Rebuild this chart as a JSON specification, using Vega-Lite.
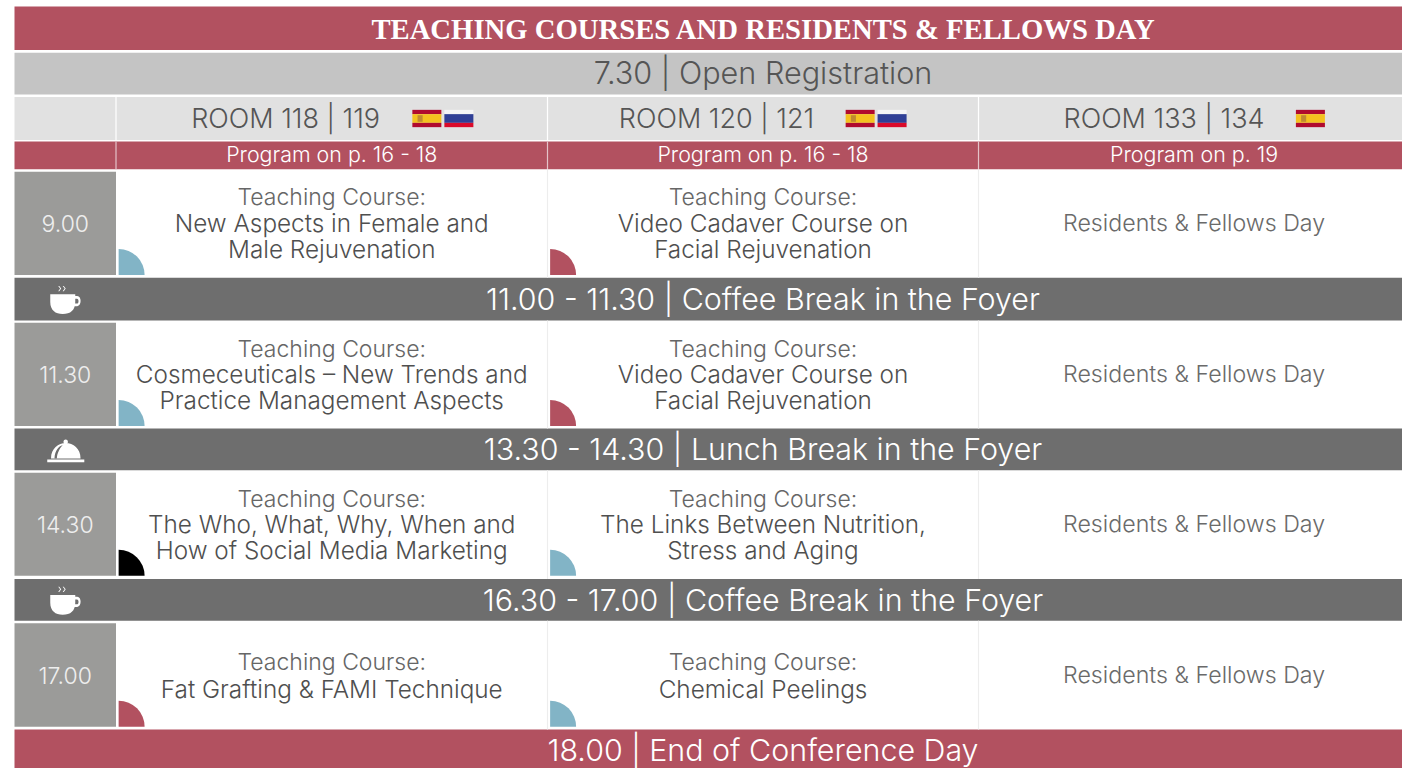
{
"$schema":"https://vega.github.io/schema/vega-lite/v6.json",
"width":1402,"height":768,"padding":0,"autosize":"none","background":"white",
"config":{"view":{"stroke":null}},
"datasets":{
"cells":[
{"col":0,"colEnd":4,"row":0,"rowEnd":1,"kind":"header"},
{"col":0,"colEnd":4,"row":2,"rowEnd":3,"kind":"registration"},
{"col":0,"colEnd":4,"row":4,"rowEnd":5,"kind":"rooms"},
{"col":0,"colEnd":4,"row":6,"rowEnd":7,"kind":"header"},
{"col":0,"colEnd":1,"row":8,"rowEnd":9,"kind":"time"},
{"col":0,"colEnd":4,"row":10,"rowEnd":11,"kind":"break"},
{"col":0,"colEnd":1,"row":12,"rowEnd":13,"kind":"time"},
{"col":0,"colEnd":4,"row":14,"rowEnd":15,"kind":"break"},
{"col":0,"colEnd":1,"row":16,"rowEnd":17,"kind":"time"},
{"col":0,"colEnd":4,"row":18,"rowEnd":19,"kind":"break"},
{"col":0,"colEnd":1,"row":20,"rowEnd":21,"kind":"time"},
{"col":0,"colEnd":4,"row":22,"rowEnd":23,"kind":"header"}
],
"dividers":[
{"col":1,"row":4,"rowEnd":5,"tone":"white"},{"col":2,"row":4,"rowEnd":5,"tone":"white"},{"col":3,"row":4,"rowEnd":5,"tone":"white"},
{"col":1,"row":6,"rowEnd":7,"tone":"pink"},{"col":2,"row":6,"rowEnd":7,"tone":"pink"},{"col":3,"row":6,"rowEnd":7,"tone":"pink"},
{"col":2,"row":7,"rowEnd":10,"tone":"faint"},{"col":3,"row":7,"rowEnd":10,"tone":"faint"},
{"col":2,"row":11,"rowEnd":14,"tone":"faint"},{"col":3,"row":11,"rowEnd":14,"tone":"faint"},
{"col":2,"row":15,"rowEnd":18,"tone":"faint"},{"col":3,"row":15,"rowEnd":18,"tone":"faint"},
{"col":2,"row":19,"rowEnd":22,"tone":"faint"},{"col":3,"row":19,"rowEnd":22,"tone":"faint"}
],
"tracks":[
{"col":1,"row":9,"track":"blue"},{"col":2,"row":9,"track":"red"},
{"col":1,"row":13,"track":"blue"},{"col":2,"row":13,"track":"red"},
{"col":1,"row":17,"track":"black"},{"col":2,"row":17,"track":"blue"},
{"col":1,"row":21,"track":"red"},{"col":2,"row":21,"track":"blue"}
],
"glyphs":[
{"col":0.5,"row":10.5,"part":"cup","ink":"white"},
{"col":0.5,"row":18.5,"part":"cup","ink":"white"},
{"col":0.5,"row":14.5,"part":"cloche","ink":"white"},
{"col":0.5,"row":14.5,"part":"groove","ink":"bar"},
{"col":1.7204,"row":4.5,"part":"top","ink":"esred"},{"col":1.7204,"row":4.5,"part":"mid","ink":"esyellow"},{"col":1.7204,"row":4.5,"part":"bottom","ink":"esred"},{"col":1.7204,"row":4.5,"part":"crest","ink":"crest"},
{"col":1.7946,"row":4.5,"part":"top","ink":"ruwhite"},{"col":1.7946,"row":4.5,"part":"mid","ink":"rublue"},{"col":1.7946,"row":4.5,"part":"bottom","ink":"rured"},
{"col":2.7254,"row":4.5,"part":"top","ink":"esred"},{"col":2.7254,"row":4.5,"part":"mid","ink":"esyellow"},{"col":2.7254,"row":4.5,"part":"bottom","ink":"esred"},{"col":2.7254,"row":4.5,"part":"crest","ink":"crest"},
{"col":2.7995,"row":4.5,"part":"top","ink":"ruwhite"},{"col":2.7995,"row":4.5,"part":"mid","ink":"rublue"},{"col":2.7995,"row":4.5,"part":"bottom","ink":"rured"},
{"col":3.7837,"row":4.5,"part":"top","ink":"esred"},{"col":3.7837,"row":4.5,"part":"mid","ink":"esyellow"},{"col":3.7837,"row":4.5,"part":"bottom","ink":"esred"},{"col":3.7837,"row":4.5,"part":"crest","ink":"crest"}
],
"labels":[
{"col":2.5,"row":0.5,"style":"title","text":"TEACHING COURSES AND RESIDENTS & FELLOWS DAY"},
{"col":2.5,"row":2.5,"style":"band","text":"7.30 | Open Registration"},
{"col":1.393,"row":4.5,"style":"room","text":"ROOM 118 | 119"},
{"col":2.392,"row":4.5,"style":"room","text":"ROOM 120 | 121"},
{"col":3.438,"row":4.5,"style":"room","text":"ROOM 133 | 134"},
{"col":1.5,"row":6.5,"style":"program","text":"Program on p. 16 - 18"},
{"col":2.5,"row":6.5,"style":"program","text":"Program on p. 16 - 18"},
{"col":3.509,"row":6.5,"style":"program","text":"Program on p. 19"},
{"col":0.5,"row":8.5,"style":"time","text":"9.00"},
{"col":0.5,"row":12.5,"style":"time","text":"11.30"},
{"col":0.5,"row":16.5,"style":"time","text":"14.30"},
{"col":0.5,"row":20.5,"style":"time","text":"17.00"},
{"col":2.5,"row":10.5,"style":"bar","text":"11.00 - 11.30 | Coffee Break in the Foyer"},
{"col":2.5,"row":14.5,"style":"bar","text":"13.30 - 14.30 | Lunch Break in the Foyer"},
{"col":2.5,"row":18.5,"style":"bar","text":"16.30 - 17.00 | Coffee Break in the Foyer"},
{"col":2.5,"row":22.53,"style":"bar","text":"18.00 | End of Conference Day"},
{"col":1.5,"row":8.25,"style":"kicker","text":"Teaching Course:"},
{"col":1.5,"row":8.5,"style":"course","text":"New Aspects in Female and"},
{"col":1.5,"row":8.75,"style":"course","text":"Male Rejuvenation"},
{"col":2.5,"row":8.25,"style":"kicker","text":"Teaching Course:"},
{"col":2.5,"row":8.5,"style":"course","text":"Video Cadaver Course on"},
{"col":2.5,"row":8.75,"style":"course","text":"Facial Rejuvenation"},
{"col":3.509,"row":8.5,"style":"residents","text":"Residents & Fellows Day"},
{"col":1.5,"row":12.26,"style":"kicker","text":"Teaching Course:"},
{"col":1.5,"row":12.5,"style":"course","text":"Cosmeceuticals – New Trends and"},
{"col":1.5,"row":12.75,"style":"course","text":"Practice Management Aspects"},
{"col":2.5,"row":12.26,"style":"kicker","text":"Teaching Course:"},
{"col":2.5,"row":12.5,"style":"course","text":"Video Cadaver Course on"},
{"col":2.5,"row":12.75,"style":"course","text":"Facial Rejuvenation"},
{"col":3.509,"row":12.5,"style":"residents","text":"Residents & Fellows Day"},
{"col":1.5,"row":16.26,"style":"kicker","text":"Teaching Course:"},
{"col":1.5,"row":16.5,"style":"course","text":"The Who, What, Why, When and"},
{"col":1.5,"row":16.75,"style":"course","text":"How of Social Media Marketing"},
{"col":2.5,"row":16.26,"style":"kicker","text":"Teaching Course:"},
{"col":2.5,"row":16.5,"style":"course","text":"The Links Between Nutrition,"},
{"col":2.5,"row":16.75,"style":"course","text":"Stress and Aging"},
{"col":3.509,"row":16.5,"style":"residents","text":"Residents & Fellows Day"},
{"col":1.5,"row":20.38,"style":"kicker","text":"Teaching Course:"},
{"col":1.5,"row":20.635,"style":"course","text":"Fat Grafting & FAMI Technique"},
{"col":2.5,"row":20.38,"style":"kicker","text":"Teaching Course:"},
{"col":2.5,"row":20.635,"style":"course","text":"Chemical Peelings"},
{"col":3.509,"row":20.5,"style":"residents","text":"Residents & Fellows Day"}
]
},
"encoding":{
"x":{"field":"col","type":"quantitative","axis":null,"scale":{"domain":[0,1,2,3,4],"range":[14.5,116,547.5,978.5,1402],"nice":false,"zero":false}},
"y":{"field":"row","type":"quantitative","axis":null,"scale":{"domain":[0,1,2,3,4,5,6,7,8,9,10,11,12,13,14,15,16,17,18,19,20,21,22,23],"range":[6.5,50,52.7,94.5,97,140,141.5,169.3,171.7,275,277.7,320.5,322.7,426,428.5,470.3,472.7,575.8,579,620.7,623.3,726.7,729.5,768],"nice":false,"zero":false}}
},
"layer":[
{"data":{"name":"cells"},"mark":{"type":"rect"},"encoding":{"x2":{"field":"colEnd"},"y2":{"field":"rowEnd"},
"color":{"field":"kind","type":"nominal","legend":null,"scale":{"domain":["header","registration","rooms","time","break"],"range":["#b25160","#c4c4c4","#e1e1e1","#9b9b99","#6e6e6e"]}}}},
{"data":{"name":"dividers"},"mark":{"type":"rule","strokeWidth":1.2},"encoding":{"y2":{"field":"rowEnd"},
"color":{"field":"tone","type":"nominal","legend":null,"scale":{"domain":["white","pink","faint"],"range":["#ffffff","#e4c3c9","#ededed"]}}}},
{"data":{"name":"tracks"},"mark":{"type":"arc","theta":0,"theta2":1.5708,"innerRadius":0,"outerRadius":26,"xOffset":2.6},"encoding":{
"color":{"field":"track","type":"nominal","legend":null,"scale":{"domain":["blue","red","black"],"range":["#82b4c6","#b25160","#000000"]}}}},
{"data":{"name":"glyphs"},"mark":{"type":"point","filled":true,"opacity":1,"size":900,"strokeWidth":0},"encoding":{
"shape":{"field":"part","type":"nominal","legend":null,"scale":{"domain":["cup","cloche","groove","top","mid","bottom","crest"],"range":[
"M-1 -.33 L.667 -.33 L.667 .2 C.667 .75 .35 1 -.17 1 C-.65 1 -1 .75 -1 .2 Z M.6 -.2 L.8 -.2 C1.1 -.2 1.1 .47 .8 .47 L.6 .47 L.6 .3 L.78 .3 C.92 .3 .92 -.03 .78 -.03 L.6 -.03 Z M-.47 -.87 L-.4 -.87 L-.27 -.7 L-.4 -.53 L-.47 -.53 L-.34 -.7 Z M-.17 -.87 L-.1 -.87 L.03 -.7 L-.1 -.53 L-.17 -.53 L-.04 -.7 Z",
"M-1.2 .67 L-1.2 .85 L1.27 .85 L1.27 .67 Z M-.95 .6 C-.95 -.05 -.45 -.42 .03 -.42 C.53 -.42 1.02 -.05 1.02 .6 Z M-.12 -.5 C-.12 -.72 .18 -.72 .18 -.5 C.18 -.35 -.12 -.35 -.12 -.5 Z",
"M-.72 .6 C-.68 .05 -.45 -.2 -.17 -.3 C-.35 -.1 -.54 .2 -.56 .6 Z",
"M-.967 -.577 L.967 -.577 L.967 -.29 L-.967 -.29 Z",
"M-.967 -.29 L.967 -.29 L.967 .29 L-.967 .29 Z",
"M-.967 .29 L.967 .29 L.967 .577 L-.967 .577 Z",
"M-.62 -.22 L-.28 -.22 L-.28 .22 L-.62 .22 Z"
]}},
"color":{"field":"ink","type":"nominal","legend":null,"scale":{"domain":["white","bar","esred","esyellow","crest","ruwhite","rublue","rured"],"range":["#ffffff","#6e6e6e","#b00b2e","#f4c11f","#c08a30","#f4f4f6","#2f3f96","#da0a2a"]}}}},
{"data":{"name":"labels"},"transform":[{"filter":"datum.style==='title'"}],"mark":{"type":"text","font":"Liberation Serif","fontWeight":"bold","fontSize":28.7,"color":"#ffffff","baseline":"middle","align":"center","dy":2},"encoding":{"text":{"field":"text"}}},
{"data":{"name":"labels"},"transform":[{"filter":"datum.style==='band'"}],"mark":{"type":"text","font":"Inter","fontWeight":300,"fontSize":30.6,"color":"#555555","baseline":"middle","align":"center","dy":1},"encoding":{"text":{"field":"text"}}},
{"data":{"name":"labels"},"transform":[{"filter":"datum.style==='room'"}],"mark":{"type":"text","font":"Inter","fontWeight":300,"fontSize":27,"color":"#555555","baseline":"middle","align":"center","dy":1},"encoding":{"text":{"field":"text"}}},
{"data":{"name":"labels"},"transform":[{"filter":"datum.style==='program'"}],"mark":{"type":"text","font":"Inter","fontWeight":300,"fontSize":21.4,"color":"#ffffff","baseline":"middle","align":"center","dy":1},"encoding":{"text":{"field":"text"}}},
{"data":{"name":"labels"},"transform":[{"filter":"datum.style==='time'"}],"mark":{"type":"text","font":"Inter","fontWeight":300,"fontSize":23,"color":"#eeeeee","baseline":"middle","align":"center","dy":2},"encoding":{"text":{"field":"text"}}},
{"data":{"name":"labels"},"transform":[{"filter":"datum.style==='bar'"}],"mark":{"type":"text","font":"Inter","fontWeight":300,"fontSize":30.4,"color":"#ffffff","baseline":"middle","align":"center","dy":2},"encoding":{"text":{"field":"text"}}},
{"data":{"name":"labels"},"transform":[{"filter":"datum.style==='kicker'"}],"mark":{"type":"text","font":"Inter","fontWeight":300,"fontSize":23,"color":"#666666","baseline":"middle","align":"center","dy":0},"encoding":{"text":{"field":"text"}}},
{"data":{"name":"labels"},"transform":[{"filter":"datum.style==='course'"}],"mark":{"type":"text","font":"Inter","fontWeight":300,"fontSize":24.3,"color":"#4f4f4f","baseline":"middle","align":"center","dy":2},"encoding":{"text":{"field":"text"}}},
{"data":{"name":"labels"},"transform":[{"filter":"datum.style==='residents'"}],"mark":{"type":"text","font":"Inter","fontWeight":300,"fontSize":23.2,"color":"#6a6a6a","baseline":"middle","align":"center","dy":1},"encoding":{"text":{"field":"text"}}}
],
"resolve":{"scale":{"color":"independent","shape":"independent"}}
}
